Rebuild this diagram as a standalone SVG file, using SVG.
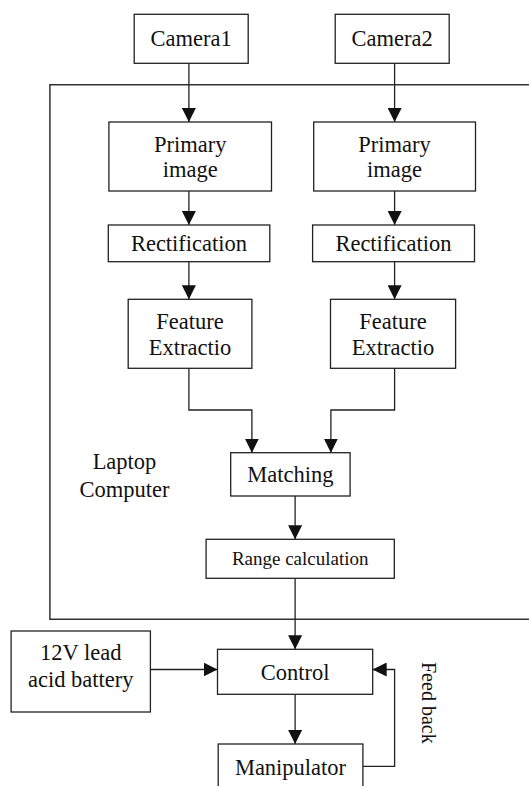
<svg xmlns="http://www.w3.org/2000/svg" width="529" height="786" viewBox="0 0 529 786">
<style>
.box{fill:#fff;stroke:#222;stroke-width:1.3}
.t{font-family:"Liberation Serif","Times New Roman",serif;font-size:22.5px;fill:#111;text-anchor:middle}
.s{font-size:19px}
.c{fill:none;stroke:#222;stroke-width:1.3}
.frame{fill:none;stroke:#333;stroke-width:1.5}
</style>
<defs>
<marker id="ah" markerUnits="userSpaceOnUse" markerWidth="14" markerHeight="14" refX="14" refY="7" orient="auto" viewBox="0 0 14 14">
<path d="M0,0 L14,7 L0,14 z" fill="#111"/>
</marker>
</defs>
<rect width="529" height="786" fill="#fff"/>
<g id="laptop">
<path class="frame" d="M530,84.7 H49.9 V619.3 H530"/>
<text class="t" x="124.5" y="469">Laptop</text>
<text class="t" x="124.5" y="497">Computer</text>
</g>
<g id="connectors">
<line class="c" x1="188.9" y1="63.3" x2="188.9" y2="122" marker-end="url(#ah)"/>
<line class="c" x1="394.6" y1="63.3" x2="394.6" y2="122" marker-end="url(#ah)"/>
<line class="c" x1="188.9" y1="191" x2="188.9" y2="225" marker-end="url(#ah)"/>
<line class="c" x1="394.6" y1="191" x2="394.6" y2="225" marker-end="url(#ah)"/>
<line class="c" x1="188.9" y1="261.7" x2="188.9" y2="299.3" marker-end="url(#ah)"/>
<line class="c" x1="394.6" y1="261.7" x2="394.6" y2="299.3" marker-end="url(#ah)"/>
<path class="c" d="M188.9,368.3 V410 H251.9 V452.7" marker-end="url(#ah)"/>
<path class="c" d="M394.6,368.3 V410 H330.9 V452.7" marker-end="url(#ah)"/>
<line class="c" x1="295.1" y1="496" x2="295.1" y2="539.3" marker-end="url(#ah)"/>
<line class="c" x1="295.1" y1="578.3" x2="295.1" y2="649.3" marker-end="url(#ah)"/>
<line class="c" x1="150.4" y1="669.5" x2="217.5" y2="669.5" marker-end="url(#ah)"/>
<line class="c" x1="295.1" y1="694.3" x2="295.1" y2="744" marker-end="url(#ah)"/>
<path class="c" d="M362.9,766.3 H394.6 V669.5 H372.7" marker-end="url(#ah)"/>
<text class="t" style="font-size:20px;text-anchor:start" transform="translate(421.5,662) rotate(90)">Feed back</text>
</g>
<g id="camera1"><rect class="box" x="134.2" y="14.3" width="114" height="49"/><text class="t" x="191.2" y="46">Camera1</text></g>
<g id="camera2"><rect class="box" x="335.2" y="14.3" width="114" height="49"/><text class="t" x="392.2" y="46">Camera2</text></g>
<g id="primary1"><rect class="box" x="108.9" y="122" width="162.6" height="69"/><text class="t" x="190.2" y="152">Primary</text><text class="t" x="190.2" y="177">image</text></g>
<g id="primary2"><rect class="box" x="313.7" y="122" width="161.8" height="69"/><text class="t" x="394.6" y="152">Primary</text><text class="t" x="394.6" y="177">image</text></g>
<g id="rect1"><rect class="box" x="108.3" y="225" width="161.5" height="36.7"/><text class="t" x="189" y="251">Rectification</text></g>
<g id="rect2"><rect class="box" x="312.6" y="225" width="161.9" height="36.7"/><text class="t" x="393.5" y="251">Rectification</text></g>
<g id="feature1"><rect class="box" x="128.2" y="299.3" width="123.7" height="69"/><text class="t" x="190" y="329">Feature</text><text class="t" x="190" y="355">Extractio</text></g>
<g id="feature2"><rect class="box" x="330.5" y="299.3" width="125.1" height="69"/><text class="t" x="393" y="329">Feature</text><text class="t" x="393" y="355">Extractio</text></g>
<g id="matching"><rect class="box" x="230.7" y="452.7" width="119.4" height="43.3"/><text class="t" x="290.4" y="482">Matching</text></g>
<g id="range"><rect class="box" x="206.1" y="539.3" width="188.2" height="39"/><text class="t s" x="300.2" y="565">Range calculation</text></g>
<g id="battery"><rect class="box" x="11.1" y="631" width="139.3" height="81"/><text class="t" x="80.7" y="660">12V lead</text><text class="t" x="80.7" y="687">acid battery</text></g>
<g id="control"><rect class="box" x="217.5" y="649.3" width="155.2" height="45"/><text class="t" x="295.1" y="679.5">Control</text></g>
<g id="manipulator"><rect class="box" x="218.2" y="744" width="144.7" height="50"/><text class="t" x="290.5" y="775">Manipulator</text></g>
</svg>
